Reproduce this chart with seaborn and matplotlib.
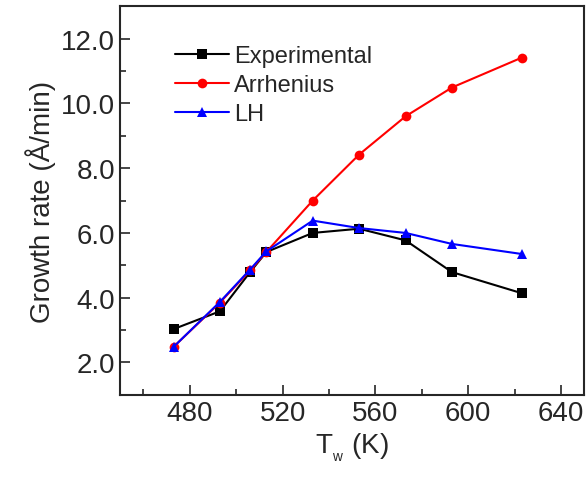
import numpy as np
import pandas as pd
import matplotlib
matplotlib.use("Agg")
import matplotlib.pyplot as plt
import seaborn as sns
from matplotlib.ticker import MultipleLocator, FormatStrFormatter

# data
temperature = [473, 493, 506, 513, 533, 553, 573, 593, 623]
experimental = [3.03, 3.58, 4.79, 5.41, 6.00, 6.13, 5.77, 4.79, 4.14]
arrhenius = [2.48, 3.85, 4.84, 5.41, 7.00, 8.42, 9.60, 10.49, 11.41]
lh = [2.48, 3.87, 4.87, 5.43, 6.38, 6.15, 6.00, 5.66, 5.35]
series_names = ["Experimental", "Arrhenius", "LH"]

sns.set_style("ticks")
plt.rcParams["font.family"] = ["Liberation Sans", "DejaVu Sans"]
plt.rcParams["mathtext.fontset"] = "custom"
plt.rcParams["mathtext.rm"] = "Liberation Sans"

df = pd.DataFrame({
    "T": temperature * 3,
    "rate": experimental + arrhenius + lh,
    "series": np.repeat(series_names, len(temperature)),
})

fig = plt.figure(figsize=(5.86, 4.81), dpi=100)
ax = fig.add_axes([0.205, 0.177, 0.792, 0.808])

sns.lineplot(
    data=df, x="T", y="rate", hue="series", style="series",
    palette={"Experimental": "black", "Arrhenius": "#ff0000", "LH": "#0000ff"},
    markers={"Experimental": "s", "Arrhenius": "o", "LH": "^"},
    dashes=False, markersize=7, linewidth=1.5, markeredgewidth=0,
    ax=ax,
)

ax.set_xlim(450, 650)
ax.set_ylim(1, 13)
ax.xaxis.set_major_locator(MultipleLocator(40))
ax.xaxis.set_minor_locator(MultipleLocator(20))
ax.yaxis.set_major_locator(MultipleLocator(2))
ax.yaxis.set_minor_locator(MultipleLocator(1))
ax.yaxis.set_major_formatter(FormatStrFormatter("%.1f"))
ax.tick_params(which="both", direction="in", width=1.2, labelsize=20, top=False, right=False)
ax.tick_params(which="major", length=7)
ax.tick_params(which="minor", length=4)
for sp in ax.spines.values():
    sp.set_linewidth(1.5)
    sp.set_visible(True)

ax.set_xlabel(r"T$_{_\mathregular{w}}$ (K)", fontsize=20)
ax.set_ylabel("Growth rate (Å/min)", fontsize=20)

ax.legend(frameon=False, fontsize=17, loc="upper left", bbox_to_anchor=(0.072, 0.955),
          handlelength=2.3, handletextpad=0.2, labelspacing=0.3)

fig.savefig("out.png", dpi=100)
